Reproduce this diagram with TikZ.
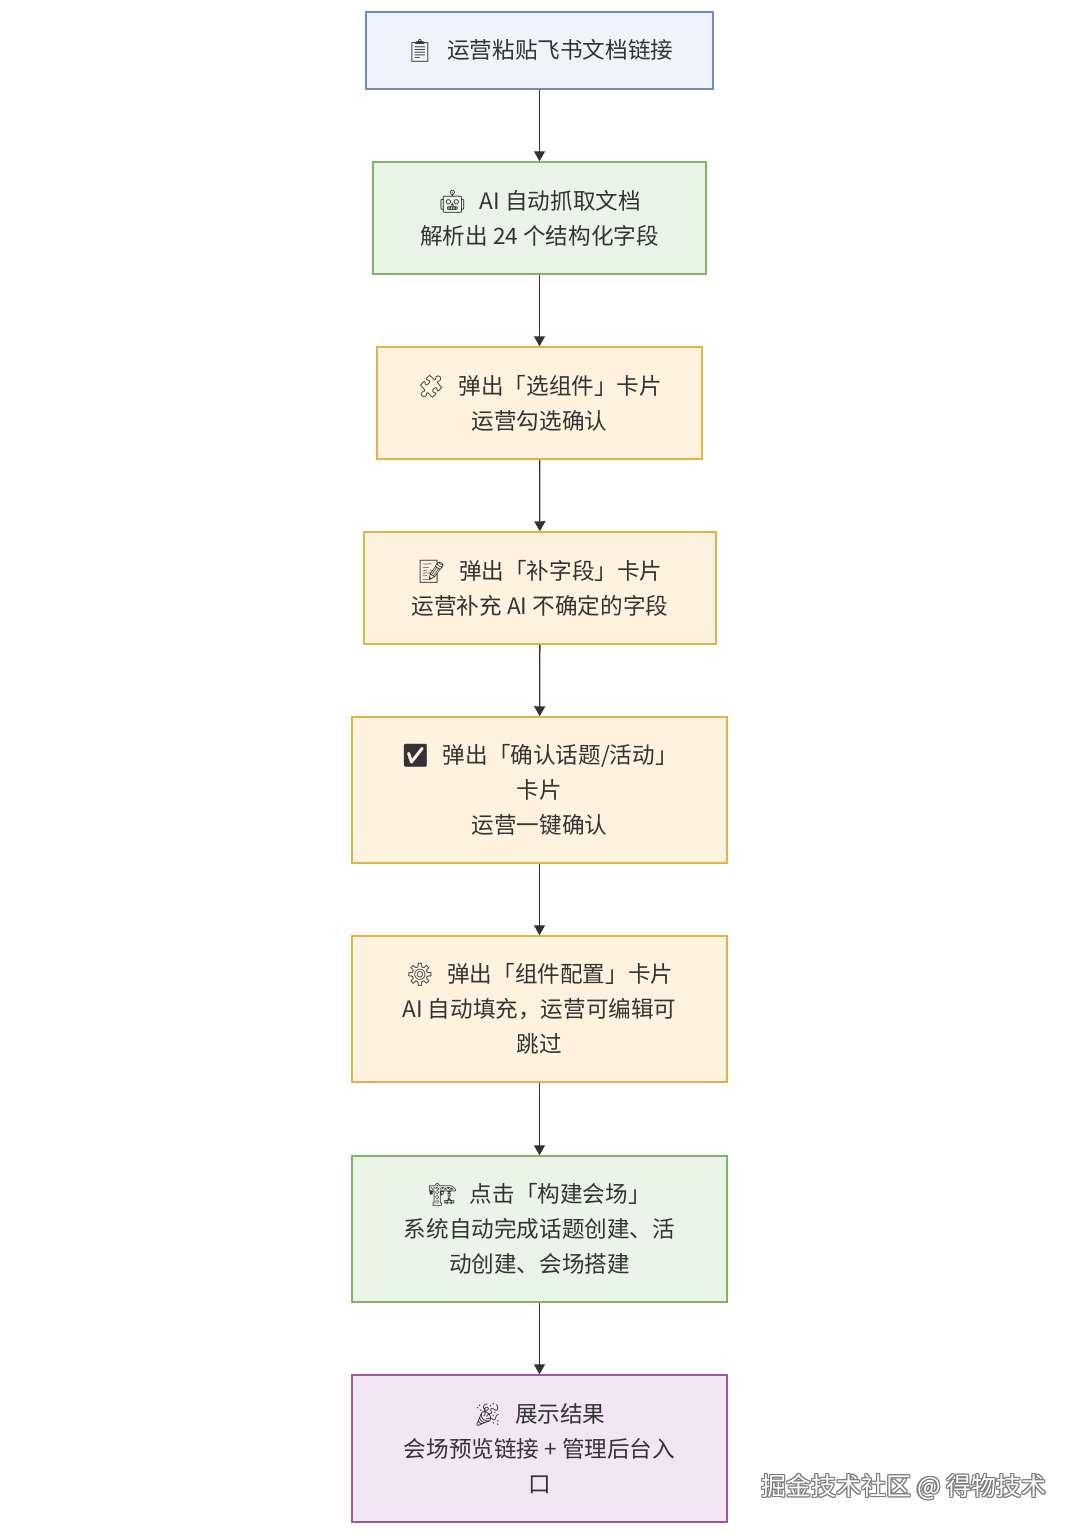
\documentclass[tikz,border=0pt]{standalone}
\usepackage{fontspec}
\setmainfont{Noto Sans CJK SC}
\newfontfamily\emojifont{Noto Emoji}
\usetikzlibrary{arrows.meta}
\definecolor{txt}{HTML}{333333}
\definecolor{bluefill}{HTML}{EEF3FC}
\definecolor{blueline}{HTML}{6C8EBF}
\definecolor{greenfill}{HTML}{E9F6E7}
\definecolor{greenline}{HTML}{82B366}
\definecolor{orangefill}{HTML}{FFF3DF}
\definecolor{orangeline}{HTML}{E2B445}
\definecolor{purplefill}{HTML}{F3E4F6}
\definecolor{purpleline}{HTML}{9C5A9E}
\definecolor{wmgray}{HTML}{7A7A7A}
\newcommand{\emo}[1]{{\emojifont #1}\hspace{13pt}}
\tikzset{
  box/.style={draw, line width=1.5pt, text=txt, align=center, inner sep=0pt,
    font=\fontsize{22.6}{35}\selectfont},
  bluebox/.style={box, fill=bluefill, draw=blueline},
  greenbox/.style={box, fill=greenfill, draw=greenline},
  orangebox/.style={box, fill=orangefill, draw=orangeline},
  purplebox/.style={box, fill=purplefill, draw=purpleline},
  flow/.style={draw=txt, line width=1.3pt, -{Triangle[width=11pt,length=10pt]}},
  wm/.style={font=\fontsize{25}{30}\selectfont, inner sep=0pt}
}
\begin{document}
\begin{tikzpicture}[x=1pt,y=-1pt]
\useasboundingbox[fill=white] (0,0) rectangle (1080,1534);
\node[bluebox, minimum width=347pt, minimum height=77pt] (n1) at (539.5,50.5)
  {\emo{📋}运营粘贴飞书文档链接};
\node[greenbox, minimum width=333pt, minimum height=112pt] (n2) at (539.5,218)
  {\emo{🤖}AI 自动抓取文档\\解析出 24 个结构化字段};
\node[orangebox, minimum width=325pt, minimum height=112pt] (n3) at (539.5,403)
  {\emo{🧩}弹出「选组件」卡片\\运营勾选确认};
\node[orangebox, minimum width=352pt, minimum height=112pt] (n4) at (540,588)
  {\emo{📝}弹出「补字段」卡片\\运营补充 AI 不确定的字段};
\node[orangebox, minimum width=375pt, minimum height=146pt] (n5) at (539.5,790)
  {\emo{✅}弹出「确认话题/活动」\\卡片\\运营一键确认};
\node[orangebox, minimum width=375pt, minimum height=146pt] (n6) at (539.5,1009)
  {\emo{⚙️}弹出「组件配置」卡片\\AI 自动填充，运营可编辑可\\跳过};
\node[greenbox, minimum width=375pt, minimum height=146pt] (n7) at (539.5,1229)
  {\emo{🏗️}点击「构建会场」\\系统自动完成话题创建、活\\动创建、会场搭建};
\node[purplebox, minimum width=375pt, minimum height=147pt] (n8) at (539.5,1448.5)
  {\emo{🎉}展示结果\\会场预览链接 + 管理后台入\\口};
\draw[flow] (n1) -- (n2);
\draw[flow] (n2) -- (n3);
\draw[flow] (n3) -- (n4);
\draw[flow] (n4) -- (n5);
\draw[flow] (n5) -- (n6);
\draw[flow] (n6) -- (n7);
\draw[flow] (n7) -- (n8);
\foreach \dx/\dy in {-1.2/0,1.2/0,0/-1.2,0/1.2,-0.9/-0.9,0.9/0.9,-0.9/0.9,0.9/-0.9}
  \node[wm, text=wmgray] at (904+\dx,1487+\dy) {掘金技术社区 @ 得物技术};
\node[wm, text=white] (wm) at (904,1487) {掘金技术社区 @ 得物技术};
\end{tikzpicture}
\end{document}
